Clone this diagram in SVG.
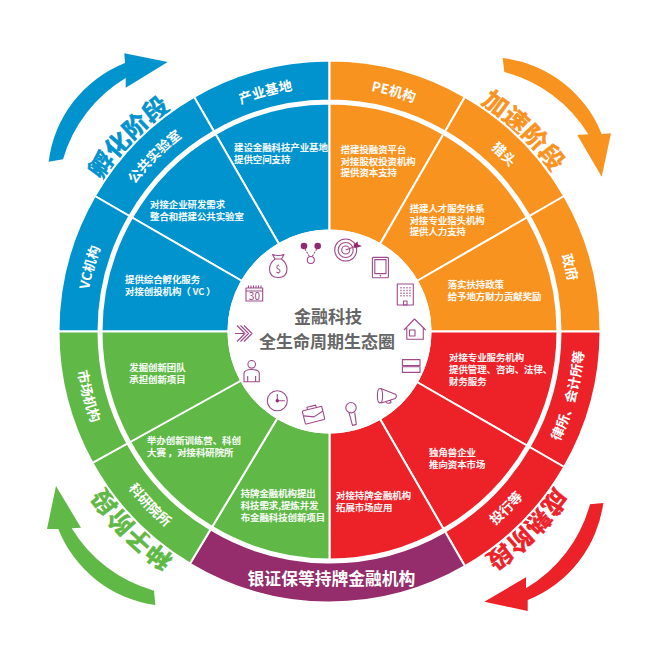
<svg xmlns="http://www.w3.org/2000/svg" width="647" height="647" viewBox="0 0 647 647">
<style>
text{font-family:"Noto Sans CJK SC","Noto Sans",sans-serif}
.d{font-size:9.4px;fill:#fff;font-weight:500;stroke:#fff;stroke-width:.2}
.l{font-size:13.5px;fill:#fff;font-weight:700;text-anchor:middle}
.st{font-size:25px;font-weight:700;text-anchor:middle;stroke-width:.6}
.w{stroke:#fff;stroke-width:2}
.b{fill:#0093cd}.o{fill:#f9931f}.r{fill:#ed2128}.g{fill:#60b947}.p{fill:#952c6b}
.i{fill:none;stroke:#a04a8b;stroke-width:1.1;stroke-linejoin:round}
.if{fill:#8f2a72}
.t{font-size:17px;font-weight:700;fill:#666;text-anchor:middle}
</style>
<defs>
<path id="wi" d="M0,-101V-228A228,228 0 0 1 114,-197.45L50.5,-87.47A101,101 0 0 0 0,-101Z"/>
<path id="wo" d="M0,-231V-271A271,271 0 0 1 135.5,-234.69L115.5,-200.05A231,231 0 0 0 0,-231Z"/>
<path id="tu" d="M-122,-211.3A244,244 0 0 1 122,-211.3"/>
<path id="td" d="M-127.5,220.8A255,255 0 0 0 127.5,220.8"/>
<path id="ts" d="M-136.5,-236.4A273,273 0 0 1 136.5,-236.4"/>
</defs>
<rect width="647" height="647" fill="#fff"/>

<g id="connectors">
<path id="arrow-incubate" class="b" d="M48.7,161.7A122,122 0 0 1 125,63L124.3,53.3L167.7,62L125.7,87.7L125.7,78A140,140 0 0 0 63,159.3Z"/>
<path id="arrow-accelerate" class="o" d="M502.7,58A122,122 0 0 1 601.7,134L611,133.3L601.7,176.7L577.3,135L588.3,134.3A140,140 0 0 0 504.3,72Z"/>
<path id="arrow-mature" class="r" d="M603.3,503A122,122 0 0 1 527.7,600L527.7,611L484.3,601.7L526,577.3L526,588.3A140,140 0 0 0 590,504.3Z"/>
<path id="arrow-seed" class="g" d="M155.3,605A122,122 0 0 1 58.3,529L47,529L56,486L81,527.7L71.7,528.3A140,140 0 0 0 154,590.7Z"/>
</g>

<g id="stage-labels">
<g transform="translate(329.5 331.5) rotate(-46)"><text class="st" fill="#0093cd" stroke="#0093cd"><textPath href="#ts" startOffset="50%">孵化阶段</textPath></text></g>
<g transform="translate(329.5 331.5) rotate(44)"><text class="st" fill="#f9931f" stroke="#f9931f"><textPath href="#ts" startOffset="50%">加速阶段</textPath></text></g>
<g transform="translate(329.5 331.5) rotate(135)"><text class="st" fill="#ed2128" stroke="#ed2128"><textPath href="#ts" startOffset="50%">成熟阶段</textPath></text></g>
<g transform="translate(329.5 331.5) rotate(225)"><text class="st" fill="#60b947" stroke="#60b947"><textPath href="#ts" startOffset="50%">种子阶段</textPath></text></g>
</g>

<g id="sector-base">
<use href="#wi" class="b w" transform="translate(329.5 331.5) rotate(-30)"/>
<use href="#wi" class="b w" transform="translate(329.5 331.5) rotate(-60)"/>
<use href="#wi" class="b w" transform="translate(329.5 331.5) rotate(-90)"/>
<use href="#wi" class="o w" transform="translate(329.5 331.5)"/>
<use href="#wi" class="o w" transform="translate(329.5 331.5) rotate(30)"/>
<use href="#wi" class="o w" transform="translate(329.5 331.5) rotate(60)"/>
<use href="#wi" class="r w" transform="translate(329.5 331.5) rotate(90)"/>
<use href="#wi" class="r w" transform="translate(329.5 331.5) rotate(120)"/>
<use href="#wi" class="r w" transform="translate(329.5 331.5) rotate(150)"/>
<path class="g w" transform="translate(329.5 331.5)" d="M0,101V228A228,228 0 0 1 -117.4,195.4L-52,86.6A101,101 0 0 0 0,101Z"/>
<path class="g w" transform="translate(329.5 331.5)" d="M-52,86.6L-117.4,195.4A228,228 0 0 1 -199.4,110.5L-88.4,49A101,101 0 0 0 -52,86.6Z"/>
<path class="g w" transform="translate(329.5 331.5)" d="M-88.4,49L-199.4,110.5A228,228 0 0 1 -228,0H-101A101,101 0 0 0 -88.4,49Z"/>
</g>

<g id="node-industry-base">
<use href="#wo" class="b w" transform="translate(329.5 331.5) rotate(-30)"/>
<g transform="translate(329.5 331.5) rotate(-15)"><text class="l"><textPath href="#tu" startOffset="50%">产业基地</textPath></text></g>
<text class="d" x="234" y="151">建设金融科技产业基地</text><text class="d" x="234" y="163">提供空间支持</text>
</g>
<g id="node-public-lab">
<use href="#wo" class="b w" transform="translate(329.5 331.5) rotate(-60)"/>
<g transform="translate(329.5 331.5) rotate(-45)"><text class="l"><textPath href="#tu" startOffset="50%">公共实验室</textPath></text></g>
<text class="d" x="150" y="208">对接企业研发需求</text><text class="d" x="150" y="220">整合和搭建公共实验室</text>
</g>
<g id="node-vc">
<use href="#wo" class="b w" transform="translate(329.5 331.5) rotate(-90)"/>
<g transform="translate(329.5 331.5) rotate(-75)"><text class="l"><textPath href="#tu" startOffset="50%">VC机构</textPath></text></g>
<text class="d" x="125" y="283">提供综合孵化服务</text><text class="d" x="125" y="295">对接创投机构（ VC ）</text>
</g>
<g id="node-pe">
<use href="#wo" class="o w" transform="translate(329.5 331.5)"/>
<g transform="translate(329.5 331.5) rotate(15)"><text class="l"><textPath href="#tu" startOffset="50%">PE机构</textPath></text></g>
<text class="d" x="340.7" y="153">搭建投融资平台</text><text class="d" x="340.7" y="164.5">对接股权投资机构</text><text class="d" x="340.7" y="176">提供资本支持</text>
</g>
<g id="node-headhunter">
<use href="#wo" class="o w" transform="translate(329.5 331.5) rotate(30)"/>
<g transform="translate(329.5 331.5) rotate(44.5)"><text class="l"><textPath href="#tu" startOffset="50%">猎头</textPath></text></g>
<text class="d" x="409.7" y="212">搭建人才服务体系</text><text class="d" x="409.7" y="223.5">对接专业猎头机构</text><text class="d" x="409.7" y="235">提供人力支持</text>
</g>
<g id="node-government">
<use href="#wo" class="o w" transform="translate(329.5 331.5) rotate(60)"/>
<g transform="translate(329.5 331.5) rotate(75)"><text class="l"><textPath href="#tu" startOffset="50%">政府</textPath></text></g>
<text class="d" x="447.7" y="288">落实扶持政策</text><text class="d" x="447.7" y="300">给予地方财力贡献奖励</text>
</g>
<g id="node-law-accounting">
<use href="#wo" class="r w" transform="translate(329.5 331.5) rotate(90)"/>
<g transform="translate(329.5 331.5) rotate(-75)"><text class="l"><textPath href="#td" startOffset="50%">律所、会计所等</textPath></text></g>
<text class="d" x="449" y="361">对接专业服务机构</text><text class="d" x="449" y="373">提供管理、咨询、法律、</text><text class="d" x="449" y="384.5">财务服务</text>
</g>
<g id="node-investment-bank">
<use href="#wo" class="r w" transform="translate(329.5 331.5) rotate(120)"/>
<g transform="translate(329.5 331.5) rotate(-45)"><text class="l"><textPath href="#td" startOffset="50%">投行等</textPath></text></g>
<text class="d" x="429" y="456">独角兽企业</text><text class="d" x="429" y="467.5">推向资本市场</text>
</g>
<g id="node-licensed">
<path class="p w" transform="translate(329.5 331.5) rotate(150)" d="M0,-231V-271A271,271 0 0 1 237,-131.4L202,-112A231,231 0 0 0 0,-231Z"/>
<text x="331.5" y="584.5" style="font-size:16.8px;font-weight:700;fill:#fff;text-anchor:middle">银证保等持牌金融机构</text>
<text class="d" x="336" y="499">对接持牌金融机构</text><text class="d" x="336" y="510.5">拓展市场应用</text>
</g>
<g id="node-research">
<path class="g w" transform="translate(329.5 331.5)" d="M-119,198L-139.6,232.2A271,271 0 0 1 -237.1,131.4L-202.1,112A231,231 0 0 0 -119,198Z"/>
<g transform="translate(329.5 331.5) rotate(46)"><text class="l"><textPath href="#td" startOffset="50%">科研院所</textPath></text></g>
<text class="d" x="240.7" y="497">持牌金融机构提出</text><text class="d" x="240.7" y="509">科技需求,提炼并发</text><text class="d" x="240.7" y="520.5">布金融科技创新项目</text>
</g>
<g id="node-market">
<path class="g w" transform="translate(329.5 331.5)" d="M-202.1,112L-237.1,131.4A271,271 0 0 1 -271,0H-231A231,231 0 0 0 -202.1,112Z"/>
<g transform="translate(329.5 331.5) rotate(75)"><text class="l"><textPath href="#td" startOffset="50%">市场机构</textPath></text></g>
<text class="d" x="129.3" y="371">发掘创新团队</text><text class="d" x="129.3" y="383">承担创新项目</text>
</g>
<g id="node-training">
<text class="d" x="147" y="444">举办创新训练营、科创</text><text class="d" x="147" y="456">大赛 ，对接科研院所</text>
</g>

<g id="node-center">
<circle cx="329.5" cy="331.5" r="102" fill="#fff"/>
<text class="t" x="328" y="323">金融科技</text>
<text class="t" x="327" y="347.5">全生命周期生态圈</text>
</g>

<g id="icons">
<g id="icon-share"><circle class="if" cx="304" cy="246" r="3.3"/><circle class="if" cx="317.7" cy="246" r="3.3"/><circle class="i" cx="310.8" cy="260" r="3.5"/><path class="i" stroke-dasharray="2 1.2" d="M305,249L309.5,256.5M316.7,249L312.2,256.5"/></g>
<g id="icon-money"><path class="i" d="M275,259C270,263 269.5,266 269.5,269C269.5,275 273,277.5 278.3,277.5C283.5,277.5 287,275 287,269C287,266 286.5,263 281.5,259ZM275,259L272.5,254.5Q278.3,256.5 284,254.5L281.5,259"/><text x="278.3" y="272.5" font-size="10" fill="#9c3f86" text-anchor="middle">$</text></g>
<g id="icon-calendar"><path class="i" d="M246,288H262.7V301H246ZM246,291H262.7M248.5,285.5V288M251,285.5V288M253.5,285.5V288M256,285.5V288M258.5,285.5V288M261,285.5V288"/><text x="254.4" y="300" font-size="10" fill="#9c3f86" text-anchor="middle">30</text></g>
<g id="icon-arrows"><path class="i" d="M235,333.5H244M237,325.5L245,333.5L237,341.5M240.5,325.5L248.5,333.5L240.5,341.5M244,325.5L252,333.5L244,341.5"/></g>
<g id="icon-person"><circle class="i" cx="251.7" cy="364.3" r="3.8"/><path class="i" d="M244,381.7V373.5Q244,369.5 251.7,369.5Q259.3,369.5 259.3,373.5V381.7ZM247.7,376V381.7M255.6,376V381.7"/></g>
<g id="icon-clock"><circle class="i" cx="277.3" cy="400.7" r="10"/><path class="i" d="M277.3,394V400.7H285"/><circle class="if" cx="277.3" cy="400.7" r="1.7"/></g>
<g id="icon-briefcase" transform="rotate(-14 313.3 415)"><rect class="i" x="303.5" y="408.5" width="20" height="13.5" rx="1"/><path class="i" d="M309,408.5V406H318V408.5M303.5,413.5L313.5,417L323.5,413.5"/></g>
<g id="icon-mic"><circle class="i" cx="351" cy="407.7" r="5.2"/><path class="i" d="M349,412.6L352.5,425.4L356.3,424.4L354.7,412.4"/></g>
<g id="icon-megaphone"><ellipse class="i" cx="380" cy="395.7" rx="2.6" ry="7.2"/><path class="i" d="M380.8,388.6L396,394.4Q397,397 395.4,398.4L381,403M385.5,401.6Q387,404.5 391,402.4L390.5,400"/></g>
<g id="icon-server"><rect class="i" x="402.4" y="359.6" width="17.6" height="6"/><rect class="i" x="402.4" y="366.8" width="17.6" height="5.6"/></g>
<g id="icon-house"><path class="i" d="M404,330L414.5,319L425.7,330M406.8,328V339.3H423.3V328"/><rect class="i" x="409.5" y="330" width="5.5" height="6"/></g>
<g id="icon-building"><rect class="i" x="397.3" y="284" width="16" height="21"/><path class="i" stroke-dasharray="1.5 1.2" d="M401,287V297M404,287V297M407,287V297M410,287V297"/><rect class="i" x="403.5" y="301" width="3.5" height="4"/></g>
<g id="icon-tablet"><rect class="i" x="372.4" y="257.4" width="16" height="20.3" rx="1"/><rect class="i" x="374.8" y="259.6" width="11.2" height="14"/><circle class="if" cx="380.4" cy="275.7" r=".7"/></g>
<g id="icon-target"><circle class="i" cx="345.7" cy="250" r="11"/><circle class="i" cx="345.7" cy="250" r="7.5"/><circle class="i" cx="345.7" cy="250" r="4"/><path class="i" d="M345.7,250L355,246.5"/><path class="if" d="M353.5,245L357.5,241.5L358,244.5L362,246L357.5,247.5L354.5,248Z"/></g>
</g>
</svg>
